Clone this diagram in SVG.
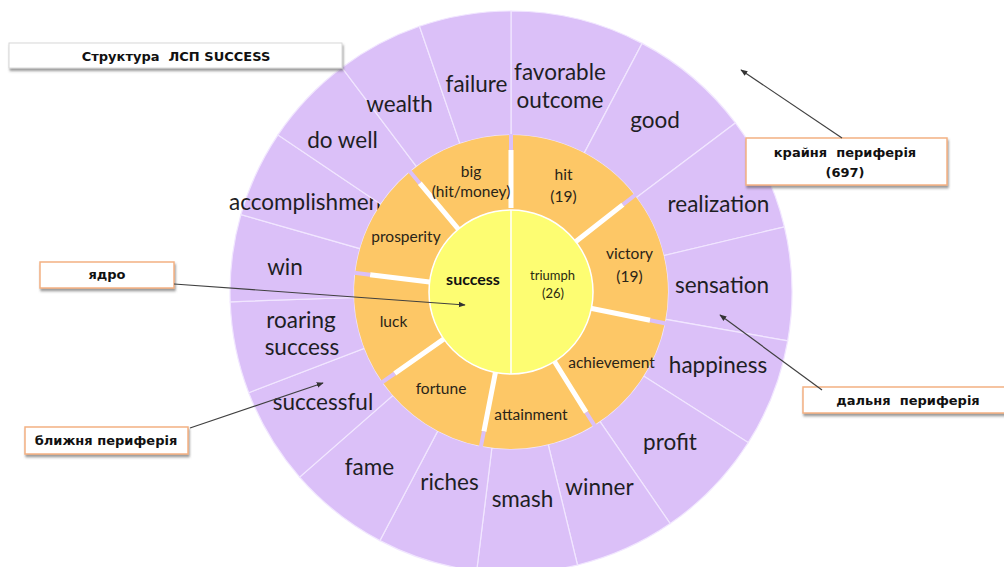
<svg xmlns="http://www.w3.org/2000/svg" width="1004" height="567" viewBox="0 0 1004 567">
  <defs>
    <filter id="shadow" x="-10%" y="-30%" width="120%" height="170%">
      <feDropShadow dx="1" dy="2.5" stdDeviation="1.2" flood-color="#555" flood-opacity="0.6"/>
    </filter>
    <marker id="arrow" viewBox="0 0 10 10" refX="9" refY="5" markerWidth="7" markerHeight="7" orient="auto-start-reverse" markerUnits="userSpaceOnUse">
      <path d="M0,1 L10,5 L0,9 Z" fill="#333"/>
    </marker>
    <style>
      .outer { fill: #dbc0f8; stroke: #f1e6ff; stroke-width: 1.2; }
      .mid { fill: #fdc766; }
      .core { fill: #fdfd72; stroke: #ffffff; stroke-width: 1.5; }
      .gap { stroke: #ffffff; stroke-width: 5; }
      .gapend { stroke: #dbc0f8; stroke-width: 4; }
      .lbl-o { font-family: Lato, "Open Sans", sans-serif; font-size: 22.5px; fill: #1e1e24; text-anchor: middle; }
      .lbl-m { font-family: Lato, "Open Sans", sans-serif; font-size: 15.5px; fill: #2a2418; text-anchor: middle; }
      .lbl-c { font-family: Lato, "Open Sans", sans-serif; font-size: 13px; fill: #2a2a10; text-anchor: middle; }
      .lbl-core { font-family: Lato, "Open Sans", sans-serif; font-size: 16px; font-weight: bold; fill: #111; text-anchor: middle; }
      .box { fill: #ffffff; stroke: #f4b183; stroke-width: 1.5; filter: url(#shadow); }
      .tbox { fill: #ffffff; stroke: #d8d8d8; stroke-width: 1; filter: url(#shadow); }
      .call { font-family: "DejaVu Sans", "Noto Sans", sans-serif; font-weight: bold; font-size: 13px; fill: #111; text-anchor: middle; white-space: pre; }
      .conn { stroke: #404040; stroke-width: 1.2; fill: none; marker-end: url(#arrow); }
    </style>
  </defs>

  <rect width="1004" height="567" fill="#ffffff"/>

  <!-- outer ring: far periphery -->
  <g id="outer-ring">
    <g id="seg-favorable-outcome">
      <path class="outer" d="M511,11 A281,281 0 0 1 642.1,43.4 L584.2,153.1 A157,157 0 0 0 511,135 Z"/>
      <text class="lbl-o" x="560" y="80">favorable</text>
      <text class="lbl-o" x="560" y="108">outcome</text>
    </g>
    <g id="seg-good">
      <path class="outer" d="M642.1,43.4 A281,281 0 0 1 735.4,122.9 L636.4,197.5 A157,157 0 0 0 584.2,153.1 Z"/>
      <text class="lbl-o" x="655" y="128">good</text>
    </g>
    <g id="seg-realization">
      <path class="outer" d="M735.4,122.9 A281,281 0 0 1 784.4,226.9 L663.7,255.6 A157,157 0 0 0 636.4,197.5 Z"/>
      <text class="lbl-o" x="718.5" y="212">realization</text>
    </g>
    <g id="seg-sensation">
      <path class="outer" d="M784.4,226.9 A281,281 0 0 1 787.7,340.8 L665.6,319.3 A157,157 0 0 0 663.7,255.6 Z"/>
      <text class="lbl-o" x="722" y="293">sensation</text>
    </g>
    <g id="seg-happiness">
      <path class="outer" d="M787.7,340.8 A281,281 0 0 1 748.2,442.6 L643.6,376.1 A157,157 0 0 0 665.6,319.3 Z"/>
      <text class="lbl-o" x="718" y="373">happiness</text>
    </g>
    <g id="seg-profit">
      <path class="outer" d="M748.2,442.6 A281,281 0 0 1 670.2,523.6 L599.9,421.4 A157,157 0 0 0 643.6,376.1 Z"/>
      <text class="lbl-o" x="670" y="450">profit</text>
    </g>
    <g id="seg-winner">
      <path class="outer" d="M670.2,523.6 A281,281 0 0 1 577.5,565.0 L548.2,444.5 A157,157 0 0 0 599.9,421.4 Z"/>
      <text class="lbl-o" x="599.5" y="495">winner</text>
    </g>
    <g id="seg-smash">
      <path class="outer" d="M577.5,565.0 A281,281 0 0 1 476.7,570.9 L491.9,447.8 A157,157 0 0 0 548.2,444.5 Z"/>
      <text class="lbl-o" x="522.5" y="507">smash</text>
    </g>
    <g id="seg-riches">
      <path class="outer" d="M476.7,570.9 A281,281 0 0 1 379.9,540.6 L437.8,430.9 A157,157 0 0 0 491.9,447.8 Z"/>
      <text class="lbl-o" x="449.5" y="490">riches</text>
    </g>
    <g id="seg-fame">
      <path class="outer" d="M379.9,540.6 A281,281 0 0 1 299.6,477.1 L392.9,395.4 A157,157 0 0 0 437.8,430.9 Z"/>
      <text class="lbl-o" x="369.5" y="475">fame</text>
    </g>
    <g id="seg-successful">
      <path class="outer" d="M299.6,477.1 A281,281 0 0 1 248.7,392.7 L364.4,348.3 A157,157 0 0 0 392.9,395.4 Z"/>
      <text class="lbl-o" x="323" y="410">successful</text>
    </g>
    <g id="seg-roaring-success">
      <path class="outer" d="M248.7,392.7 A281,281 0 0 1 230.2,301.8 L354.1,297.5 A157,157 0 0 0 364.4,348.3 Z"/>
      <text class="lbl-o" x="301" y="328">roaring</text>
      <text class="lbl-o" x="302" y="355">success</text>
    </g>
    <g id="seg-win">
      <path class="outer" d="M230.2,301.8 A281,281 0 0 1 240.9,214.6 L360.1,248.7 A157,157 0 0 0 354.1,297.5 Z"/>
      <text class="lbl-o" x="285" y="275">win</text>
    </g>
    <g id="seg-accomplishment">
      <path class="outer" d="M240.9,214.6 A281,281 0 0 1 278.0,134.9 L380.8,204.2 A157,157 0 0 0 360.1,248.7 Z"/>
      <text class="lbl-o" x="309" y="210">accomplishment</text>
    </g>
    <g id="seg-do-well">
      <path class="outer" d="M278.0,134.9 A281,281 0 0 1 341.9,67.6 L416.5,166.6 A157,157 0 0 0 380.8,204.2 Z"/>
      <text class="lbl-o" x="342.5" y="148">do well</text>
    </g>
    <g id="seg-wealth">
      <path class="outer" d="M341.9,67.6 A281,281 0 0 1 419.5,26.3 L459.9,143.6 A157,157 0 0 0 416.5,166.6 Z"/>
      <text class="lbl-o" x="399.5" y="112">wealth</text>
    </g>
    <g id="seg-failure">
      <path class="outer" d="M419.5,26.3 A281,281 0 0 1 511,11 L511,135 A157,157 0 0 0 459.9,143.6 Z"/>
      <text class="lbl-o" x="476.5" y="92">failure</text>
    </g>
  </g>

  <!-- middle ring: near periphery -->
  <g id="middle-ring">
    <g id="seg-hit">
      <path class="mid" d="M511,135 A157,157 0 0 1 634.7,195.3 L575.6,241.5 A82,82 0 0 0 511,210 Z"/>
    </g>
    <g id="seg-victory">
      <path class="mid" d="M634.7,195.3 A157,157 0 0 1 664.8,323.3 L591.4,308.4 A82,82 0 0 0 575.6,241.5 Z"/>
    </g>
    <g id="seg-achievement">
      <path class="mid" d="M664.8,323.3 A157,157 0 0 1 594.2,425.1 L554.5,361.5 A82,82 0 0 0 591.4,308.4 Z"/>
    </g>
    <g id="seg-attainment">
      <path class="mid" d="M594.2,425.1 A157,157 0 0 1 481.0,446.1 L495.4,372.5 A82,82 0 0 0 554.5,361.5 Z"/>
    </g>
    <g id="seg-fortune">
      <path class="mid" d="M481.0,446.1 A157,157 0 0 1 382.4,382.1 L443.8,339.0 A82,82 0 0 0 495.4,372.5 Z"/>
    </g>
    <g id="seg-luck">
      <path class="mid" d="M382.4,382.1 A157,157 0 0 1 355.2,272.9 L429.6,282.0 A82,82 0 0 0 443.8,339.0 Z"/>
    </g>
    <g id="seg-prosperity">
      <path class="mid" d="M355.2,272.9 A157,157 0 0 1 410.1,171.7 L458.3,229.2 A82,82 0 0 0 429.6,282.0 Z"/>
    </g>
    <g id="seg-big">
      <path class="mid" d="M410.1,171.7 A157,157 0 0 1 511,135 L511,210 A82,82 0 0 0 458.3,229.2 Z"/>
    </g>
    <!-- separating gaps between the exploded pieces -->
    <g id="ring-gaps">
      <path class="gap" d="M511,208 L511,150 M574,243 L622.9,204.6 M589.4,308 L650.1,320.3 M553.4,359.8 L586.2,412.4 M495.8,370.5 L483.9,431.4 M445.4,337.9 L394.7,373.5 M431.6,282.2 L370.1,274.7 M459.6,230.7 L419.7,183.2"/>
      <path class="gapend" d="M511,150 L511,134 M622.9,204.6 L635.5,194.7 M650.1,320.3 L665.8,323.5 M586.2,412.4 L594.7,425.9 M483.9,431.4 L480.8,447.1 M394.7,373.5 L381.6,382.7 M370.1,274.7 L354.2,272.8 M419.7,183.2 L409.5,171"/>
    </g>
    <g id="mid-labels">
      <text class="lbl-m" x="563.5" y="180">hit</text>
      <text class="lbl-m" x="563.5" y="202">(19)</text>
      <text class="lbl-m" x="629.5" y="259">victory</text>
      <text class="lbl-m" x="629.5" y="282">(19)</text>
      <text class="lbl-m" x="611.5" y="368">achievement</text>
      <text class="lbl-m" x="531" y="420">attainment</text>
      <text class="lbl-m" x="441" y="394">fortune</text>
      <text class="lbl-m" x="393.5" y="327">luck</text>
      <text class="lbl-m" x="406" y="242">prosperity</text>
      <text class="lbl-m" x="471" y="177">big</text>
      <text class="lbl-m" x="471" y="197">(hit/money)</text>
    </g>
  </g>

  <!-- core -->
  <g id="core">
    <circle class="core" cx="511" cy="292" r="82"/>
    <line x1="511" y1="210" x2="511" y2="374" stroke="#ffffff" stroke-width="1.5"/>
    <text class="lbl-core" x="473" y="285">success</text>
    <text class="lbl-c" x="552.5" y="280">triumph</text>
    <text class="lbl-c" x="553" y="298">(26)</text>
  </g>

  <!-- callouts -->
  <g id="title">
    <rect class="tbox" x="9" y="43" width="333" height="25"/>
    <text class="call" x="176" y="61" xml:space="preserve">Структура  ЛСП SUCCESS</text>
  </g>
  <g id="callout-core">
    <rect class="box" x="40" y="262" width="134" height="26"/>
    <text class="call" x="107" y="279">ядро</text>
  </g>
  <g id="callout-near">
    <rect class="box" x="25" y="427" width="163" height="27"/>
    <text class="call" x="106" y="445">ближня периферія</text>
  </g>
  <g id="callout-extreme">
    <rect class="box" x="746" y="138" width="201" height="47"/>
    <text class="call" x="845" y="157" xml:space="preserve">крайня  периферія</text>
    <text class="call" x="845" y="177">(697)</text>
  </g>
  <g id="callout-far">
    <rect class="box" x="803" y="387" width="210" height="26"/>
    <text class="call" x="908" y="405" xml:space="preserve">дальня  периферія</text>
  </g>

  <g id="connectors">
    <line class="conn" x1="174" y1="284" x2="465" y2="305"/>
    <line class="conn" x1="190" y1="428" x2="323" y2="383"/>
    <line class="conn" x1="842" y1="138" x2="741" y2="70"/>
    <line class="conn" x1="822" y1="390" x2="720" y2="315"/>
  </g>
</svg>
